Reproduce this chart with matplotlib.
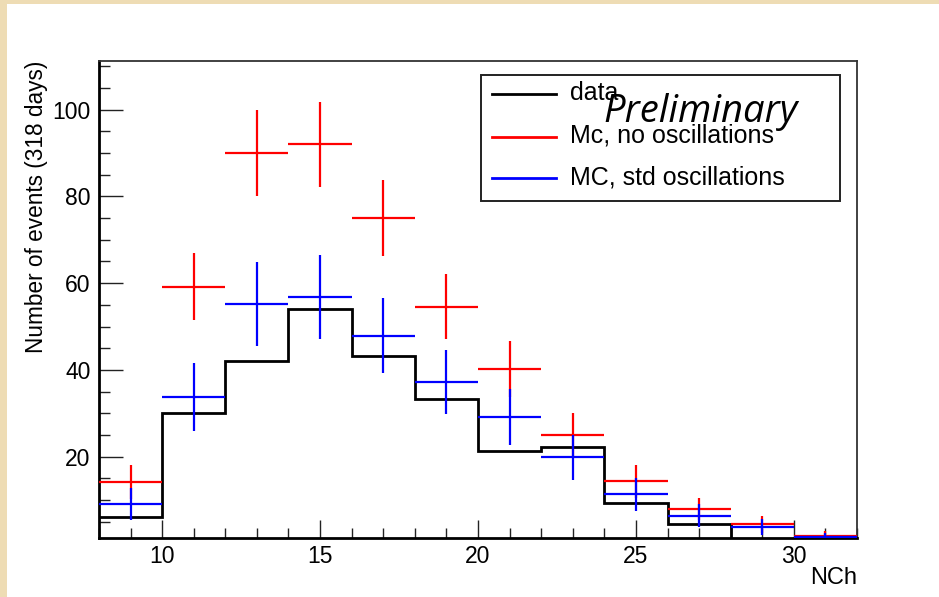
import matplotlib
matplotlib.use("Agg")
import matplotlib.pyplot as plt
import numpy as np
from matplotlib.lines import Line2D
from matplotlib.patches import Rectangle
from matplotlib.ticker import MultipleLocator

# NCh binning: 12 bins of width 2 from 8 to 32
bin_edges = [8, 10, 12, 14, 16, 18, 20, 22, 24, 26, 28, 30, 32]
bin_centers = [9, 11, 13, 15, 17, 19, 21, 23, 25, 27, 29, 31]

data_counts = [6.1, 30.0, 42.1, 54.0, 43.2, 33.3, 21.3, 22.2, 9.4, 4.4, 0.0, 0.0]

mc_noosc = [14.2, 59.2, 90.0, 92.0, 75.0, 54.6, 40.2, 25.1, 14.3, 7.9, 4.4, 1.8]
mc_noosc_err = [3.9, 7.8, 9.9, 9.8, 8.8, 7.4, 6.4, 5.0, 3.8, 2.6, 1.9, 1.0]

mc_stdosc = [9.0, 33.8, 55.2, 56.9, 47.9, 37.2, 29.2, 19.9, 11.4, 6.4, 3.8, 1.5]
mc_stdosc_err = [3.7, 7.9, 9.7, 9.7, 8.6, 7.4, 6.5, 5.2, 3.8, 2.7, 1.9, 1.0]

legend_labels = ["data", "Mc, no oscillations", "MC, std oscillations"]
legend_colors = ["black", "#ff0000", "#0000ff"]

plt.rcParams["font.family"] = ["Liberation Sans", "DejaVu Sans"]

fig = plt.figure(figsize=(9.39, 5.97), dpi=100, facecolor="#eedcb4")
# white canvas pad on top of the beige slide background
fig.patches.append(Rectangle((7 / 939, 0), 1, 1 - 4 / 597, transform=fig.transFigure,
                             facecolor="white", edgecolor="none", zorder=-5))

ax = fig.add_axes([0.1054, 0.098, 0.8073, 0.7998])
ax.set_facecolor("white")

# data histogram as a step line (edge to edge)
ax.stairs(data_counts, bin_edges, color="black", lw=2.0, zorder=3, baseline=None)

half_w = [1.0] * len(bin_centers)
ax.errorbar(bin_centers, mc_noosc, xerr=half_w, yerr=mc_noosc_err, fmt="none",
            ecolor="#ff0000", elinewidth=1.6, capsize=0, zorder=4)
ax.errorbar(bin_centers, mc_stdosc, xerr=half_w, yerr=mc_stdosc_err, fmt="none",
            ecolor="#0000ff", elinewidth=1.6, capsize=0, zorder=5)

ax.set_xlim(8, 32)
ax.set_ylim(1.15, 111.2)

ax.xaxis.set_major_locator(MultipleLocator(5))
ax.xaxis.set_minor_locator(MultipleLocator(1))
ax.yaxis.set_major_locator(MultipleLocator(20))
ax.yaxis.set_minor_locator(MultipleLocator(5))
ax.tick_params(axis="both", which="both", direction="in", colors="#222222")
ax.tick_params(axis="x", which="major", length=13, width=1.0, pad=5, labelsize=16.5)
ax.tick_params(axis="x", which="minor", length=7, width=1.0)
ax.tick_params(axis="y", which="major", length=17, width=1.0, pad=6, labelsize=16.5)
ax.tick_params(axis="y", which="minor", length=8, width=1.0)
ax.tick_params(labelcolor="black")

for side in ("left", "bottom"):
    ax.spines[side].set_linewidth(2.0)
    ax.spines[side].set_color("black")
for side in ("top", "right"):
    ax.spines[side].set_linewidth(1.3)
    ax.spines[side].set_color("#333333")

fig.text(36.5 / 939, 1 - 61 / 597, "Number of events (318 days)", rotation=90,
         ha="center", va="top", fontsize=16.3)
fig.text(857 / 939, 1 - 578 / 597, "NCh", ha="right", va="center", fontsize=17)

# legend box drawn in axes coordinates
ax.add_patch(Rectangle((0.5036, 0.7074), 0.474, 0.2633, transform=ax.transAxes,
                       facecolor="white", edgecolor="#222222", lw=1.4, zorder=6))
legend_y = [0.9309, 0.8415, 0.7543]
for lab, col, ly in zip(legend_labels, legend_colors, legend_y):
    ax.add_line(Line2D([0.5183, 0.6029], [ly, ly], transform=ax.transAxes,
                       color=col, lw=2.0, zorder=7))
    ax.text(0.6214, ly + 0.002, lab, transform=ax.transAxes, ha="left", va="center",
            fontsize=18, zorder=7)

ax.text(0.793, 0.893, "Preliminary", transform=ax.transAxes, ha="center", va="center",
        fontsize=27.5, style="italic", family=["Open Sans", "DejaVu Sans"], zorder=8)

fig.savefig("out.png", dpi=100, facecolor=fig.get_facecolor())
